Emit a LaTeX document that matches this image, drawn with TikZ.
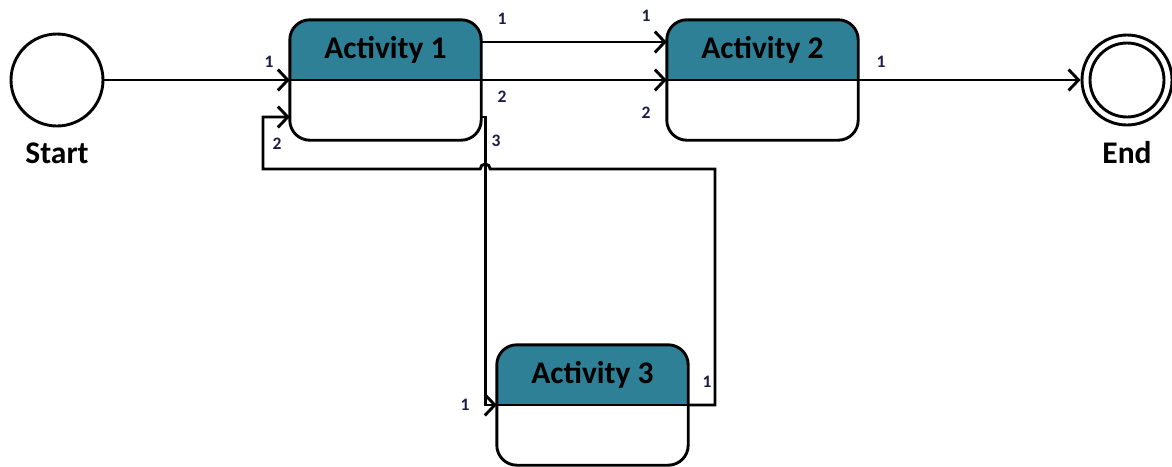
\documentclass[tikz,border=0pt]{standalone}
\usepackage{fontspec}
\setmainfont{Carlito}
\usetikzlibrary{arrows.meta,calc}
\definecolor{hdr}{RGB}{46,128,150}
\definecolor{numc}{RGB}{28,28,72}
\tikzset{
  wire/.style={line width=2.9pt},
  flow/.style={wire,-{Straight Barb[length=10pt,width=21pt,line width=2.9pt]}},
  actbox/.style={rectangle,minimum width=191pt,minimum height=120pt,inner sep=0pt,fill=white},
  boxline/.style={wire,rounded corners=20pt},
  title/.style={font=\bfseries\fontsize{31.5}{34}\selectfont,text=black,inner sep=0pt,anchor=base},
  term/.style={circle,draw,line width=2.9pt,inner sep=0pt},
  num/.style={font=\bfseries\fontsize{17.5}{19}\selectfont,text=numc,inner sep=0pt}
}
\newcommand{\activity}[3]{%
  \node[actbox] (#1) at (#2) {};
  \begin{scope}
    \clip[rounded corners=20pt] (#1.south west) rectangle (#1.north east);
    \fill[hdr] (#1.north west) rectangle (#1.east);
  \end{scope}
  \draw[boxline] (#1.south west) rectangle (#1.north east);
  \draw[wire] (#1.west) -- (#1.east);
  \node[title] (#1t) at ([yshift=-39pt]#1.north) {#3};
}
\begin{document}
\begin{tikzpicture}[x=1pt,y=-1pt]
\useasboundingbox (0,0) rectangle (1172,466);

% start and end states
\node[term,minimum size=92pt] (start) at (57,80) {};
\node[title] (startl) at (57,163) {Start};
\node[term,minimum size=90pt] (end) at (1127,80) {};
\node[term,minimum size=74pt] (endin) at (1127,80) {};
\node[title] (endl) at (1127,163) {End};

% activities
\activity{a1}{385.5,80}{Activity 1}
\activity{a2}{762.5,80}{Activity 2}
\activity{a3}{592.5,405}{Activity 3}

% routing points
\coordinate (p3) at ([xshift=4pt,yshift=-37pt]a1.east);
\coordinate (lr) at (715,169);
\coordinate (ll) at (263,169);

% transitions
\draw[flow] (start) -- (a1.west);
\draw[flow] ([yshift=38pt]a1.east) -- ([yshift=38pt]a2.west);
\draw[flow] (a1.east) -- (a2.west);
\draw[flow] (a2.east) -- (end.west);
\draw[flow] ([yshift=-37pt]a1.east) -- (p3) -- (p3 |- a3.west) -- (a3.west);
\draw[flow] (a3.east) -- (a3.east -| lr) -- (lr)
  -- ([xshift=5pt]p3 |- lr) arc[start angle=0,end angle=-180,radius=5]
  -- (ll) |- ([yshift=-37pt]a1.west);

% port numbers
\node[num] (n1) at (269,62) {1};
\node[num] (n2) at (502,19) {1};
\node[num] (n3) at (646,16) {1};
\node[num] (n4) at (502,97) {2};
\node[num] (n5) at (646,113) {2};
\node[num] (n6) at (881,62) {1};
\node[num] (n7) at (496,141) {3};
\node[num] (n8) at (277,144) {2};
\node[num] (n9) at (465,405) {1};
\node[num] (n10) at (707,382) {1};
\end{tikzpicture}
\end{document}
